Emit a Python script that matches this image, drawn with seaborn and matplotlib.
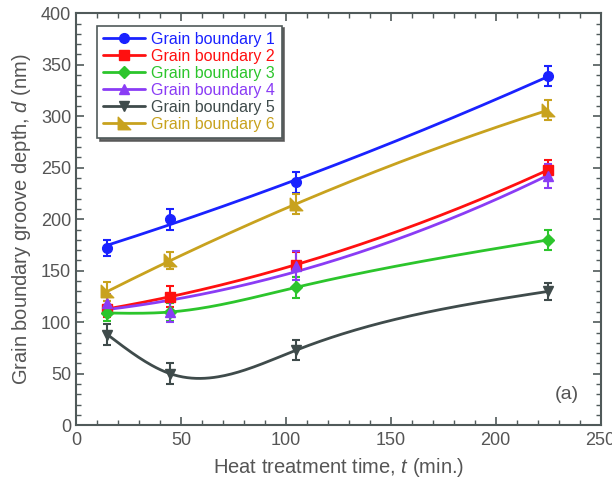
import numpy as np
import pandas as pd
import matplotlib
matplotlib.use("Agg")
import matplotlib.pyplot as plt
import seaborn as sns
from matplotlib.path import Path

# ---- data ----
times = [15, 45, 105, 225]
series_names = ["Grain boundary 1", "Grain boundary 2", "Grain boundary 3",
                "Grain boundary 4", "Grain boundary 5", "Grain boundary 6"]
gb1 = [172, 200, 236, 339]
gb2 = [113, 125, 156, 248]
gb3 = [109, 110, 134, 180]
gb4 = [119, 110, 155, 242]
gb5 = [88, 50, 73, 130]
gb6 = [130, 160, 215, 306]
err1 = [8, 10, 10, 10]
err2 = [8, 10, 12, 10]
err3 = [8, 9, 10, 10]
err4 = [8, 10, 14, 12]
err5 = [10, 10, 10, 8]
err6 = [9, 8, 10, 10]

values = [gb1, gb2, gb3, gb4, gb5, gb6]
errors = [err1, err2, err3, err4, err5, err6]
colors = ["#1a22ff", "#ff1010", "#2cc52c", "#8a3cf5", "#3f4b4b", "#c8a21e"]
# how the smooth guide curve through each series is drawn
curve_kind = ["quad", "quad", "spline", "quad", "spline", "quad"]

tri6 = Path([(-1, -1), (1, -1), (-1, 1), (-1, -1)],
            [Path.MOVETO, Path.LINETO, Path.LINETO, Path.CLOSEPOLY])
markers = ["o", "s", "D", "^", "v", tri6]
msizes = [7, 7, 6, 7.5, 7.5, 9]


def natural_spline(x, y, xs):
    x = np.asarray(x, float)
    y = np.asarray(y, float)
    k = len(x)
    h = np.diff(x)
    A = np.zeros((k, k))
    b = np.zeros(k)
    A[0, 0] = 1
    A[-1, -1] = 1
    for i in range(1, k - 1):
        A[i, i - 1] = h[i - 1]
        A[i, i] = 2 * (h[i - 1] + h[i])
        A[i, i + 1] = h[i]
        b[i] = 6 * ((y[i + 1] - y[i]) / h[i] - (y[i] - y[i - 1]) / h[i - 1])
    M = np.linalg.solve(A, b)
    ys = np.empty_like(xs)
    for j, t in enumerate(xs):
        i = min(np.searchsorted(x, t, side="right") - 1, k - 2)
        a, bb = x[i], x[i + 1]
        hi = bb - a
        ys[j] = (M[i] * (bb - t) ** 3 / (6 * hi) + M[i + 1] * (t - a) ** 3 / (6 * hi)
                 + (y[i] / hi - M[i] * hi / 6) * (bb - t)
                 + (y[i + 1] / hi - M[i + 1] * hi / 6) * (t - a))
    return ys


sns.set_theme(style="ticks")
plt.rcParams["font.family"] = ["Liberation Sans", "DejaVu Sans"]
plt.rcParams["mathtext.fontset"] = "custom"
plt.rcParams["mathtext.it"] = "Liberation Sans:italic"
plt.rcParams["mathtext.rm"] = "Liberation Sans"

gray = "#505a5a"
txtgray = "#555555"
fig = plt.figure(figsize=(6.12, 4.83), dpi=100)
ax = fig.add_axes([0.1242, 0.1195, 0.8573, 0.853])

handles = []
for name, v, e, c, m, ms, kind in zip(series_names, values, errors, colors,
                                      markers, msizes, curve_kind):
    xs = np.linspace(times[0], times[-1], 200)
    if kind == "spline":
        ys = natural_spline(times, v, xs)
    else:
        ys = np.polyval(np.polyfit(times, v, 2), xs)
    curve = pd.DataFrame({"t": xs, "d": ys})
    sns.lineplot(data=curve, x="t", y="d", ax=ax, color=c, lw=2.0, sort=False,
                 legend=False, zorder=2)
    ax.errorbar(times, v, yerr=e, fmt="none", ecolor=c, elinewidth=1.5,
                capsize=3, capthick=1.5, zorder=3)
    ax.plot(times, v, linestyle="none", marker=m, markersize=ms, color=c, zorder=4)
    h, = ax.plot([], [], color=c, lw=2.0, marker=m, markersize=ms, label=name)
    handles.append(h)

ax.set_xlim(0, 250)
ax.set_ylim(0, 400)
ax.set_xticks(np.arange(0, 251, 50))
ax.set_yticks(np.arange(0, 401, 50))
ax.set_xticks(np.arange(0, 251, 10), minor=True)
ax.set_yticks(np.arange(0, 401, 10), minor=True)
ax.tick_params(which="both", direction="in", top=True, right=True, colors=gray,
               labelsize=13, labelcolor=txtgray)
ax.tick_params(which="major", length=6, width=1.2)
ax.tick_params(which="minor", length=3.5, width=1.0)
ax.tick_params(axis="x", pad=5)
for s in ax.spines.values():
    s.set_color(gray)
    s.set_linewidth(1.5)

ax.set_xlabel("Heat treatment time, $t$ (min.)", fontsize=14.5, color=txtgray,
              labelpad=5)
ax.set_ylabel("Grain boundary groove depth, $d$ (nm)", fontsize=14.5, color=txtgray,
              labelpad=6)

leg = ax.legend(handles=handles, loc="upper left", bbox_to_anchor=(0.04, 0.97),
                borderaxespad=0, fontsize=11.5, frameon=True, fancybox=False,
                shadow={"color": "#555555", "alpha": 0.9}, handlelength=2.6,
                labelspacing=0.12, handletextpad=0.4, borderpad=0.4)
leg.get_frame().set_edgecolor(gray)
leg.get_frame().set_linewidth(1.2)
for txt, c in zip(leg.get_texts(), colors):
    txt.set_color(c)

ax.text(0.935, 0.075, "(a)", transform=ax.transAxes, fontsize=14, color=txtgray,
        ha="center", va="center")

fig.savefig("out.png", dpi=100)
